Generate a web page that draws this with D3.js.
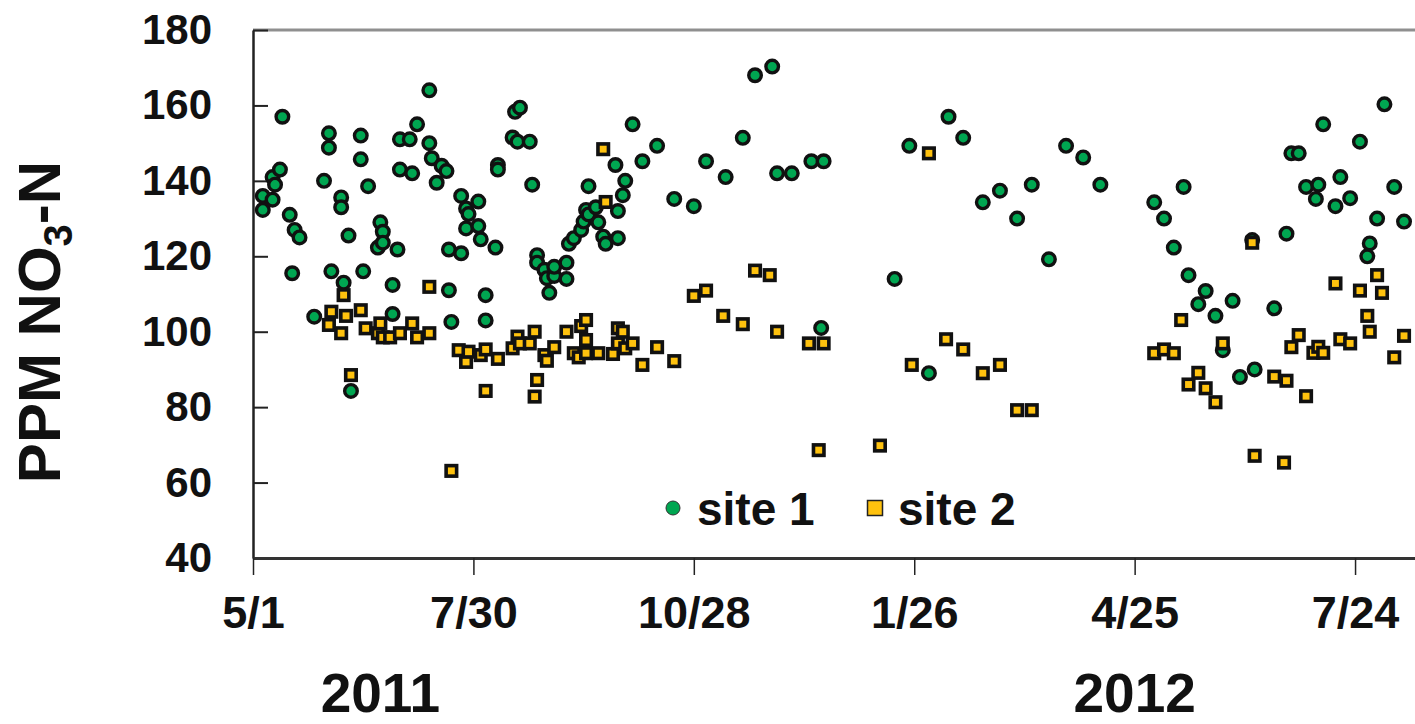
<!DOCTYPE html>
<html>
<head>
<meta charset="utf-8">
<script src="https://cdn.jsdelivr.net/npm/d3@7"></script>
<style>
  html, body { margin: 0; padding: 0; background: #fff; }
  svg { display: block; font-family: "Liberation Sans", Arial, sans-serif; font-weight: bold; }
</style>
</head>
<body>
<svg id="chart" width="1415" height="724"></svg>
<script>
// site 1 (green circles): sample date, ppm NO3-N
const site1Dates = [
  "2011-05-05","2011-05-05","2011-05-09","2011-05-09","2011-05-10","2011-05-12","2011-05-13","2011-05-16","2011-05-17","2011-05-18",
  "2011-05-20","2011-05-26","2011-05-30","2011-06-01","2011-06-01","2011-06-02","2011-06-06","2011-06-06","2011-06-07","2011-06-09",
  "2011-06-10","2011-06-14","2011-06-14","2011-06-15","2011-06-17","2011-06-21","2011-06-22","2011-06-23","2011-06-23","2011-06-27",
  "2011-06-27","2011-06-29","2011-06-30","2011-06-30","2011-07-04","2011-07-05","2011-07-07","2011-07-12","2011-07-12","2011-07-13",
  "2011-07-15","2011-07-17","2011-07-19","2011-07-20","2011-07-20","2011-07-21","2011-07-25","2011-07-25","2011-07-27","2011-07-27",
  "2011-07-28","2011-08-01","2011-08-01","2011-08-02","2011-08-04","2011-08-04","2011-08-08","2011-08-09","2011-08-09","2011-08-15",
  "2011-08-16","2011-08-18","2011-08-17","2011-08-22","2011-08-23","2011-08-25","2011-08-25","2011-08-28","2011-08-29","2011-08-30",
  "2011-09-01","2011-09-01","2011-09-06","2011-09-06","2011-09-07","2011-09-09","2011-09-12","2011-09-13","2011-09-14","2011-09-15",
  "2011-09-15","2011-09-18","2011-09-19","2011-09-21","2011-09-22","2011-09-26","2011-09-27","2011-09-27","2011-09-29","2011-09-30",
  "2011-10-03","2011-10-07","2011-10-13","2011-10-20","2011-10-28","2011-11-02","2011-11-10","2011-11-17","2011-11-22","2011-11-29",
  "2011-12-01","2011-12-07","2011-12-15","2011-12-20","2011-12-19","2012-01-18","2012-01-24","2012-02-01","2012-02-09","2012-02-15",
  "2012-02-23","2012-03-01","2012-03-08","2012-03-14","2012-03-21","2012-03-28","2012-04-04","2012-04-11","2012-05-03","2012-05-07",
  "2012-05-11","2012-05-15","2012-05-17","2012-05-21","2012-05-24","2012-05-28","2012-05-31","2012-06-04","2012-06-07","2012-06-12",
  "2012-06-13","2012-06-21","2012-06-26","2012-06-28","2012-07-01","2012-07-04","2012-07-08","2012-07-09","2012-07-11","2012-07-16",
  "2012-07-18","2012-07-22","2012-07-26","2012-07-29","2012-07-30","2012-08-02","2012-08-05","2012-08-09","2012-08-13"
];
const site1Values = [
  132.3,136,141,135,139,143,157,131,115.5,127,
  125,104,140,152.6,148.8,116,135.6,133,113,125.5,
  84.3,152,145.7,116,138.6,122.3,129,126.5,123.6,104.7,
  112.4,121.8,143,151,151,142,155,164,150,146,
  139.5,144,142.6,111,121.8,102.6,120.8,136,127.4,132.7,
  131.2,134.5,128,124.5,109.7,103,122.3,144.2,143,151.5,
  158.3,159.4,150.4,150.4,139,120.3,118.3,116.4,114.2,110.3,
  114.8,117.2,118.3,114,123.3,124.8,127,129.2,132.3,131.1,
  138.6,133,129,125.2,123.3,144.2,132,124.8,136.2,140,
  155,145.2,149.3,135.2,133.3,145.2,141,151.4,168,170.3,
  142,142,145.2,145.2,101,114,149.3,89,157,151.4,
  134.3,137.4,130,139,119.2,149.3,146.2,139,134.3,130,
  122.3,138.4,115,107.3,110.8,104.2,95.1,108.2,88,124.3,
  90,106.2,126,147.3,147.3,138.4,135.2,139,155,133.3,
  141,135.4,150.4,120,123.4,130,160.3,138.4,129.2
];

// site 2 (yellow squares)
const site2Dates = [
  "2011-06-01","2011-06-02","2011-06-06","2011-06-07","2011-06-08","2011-06-10","2011-06-14","2011-06-16","2011-06-21","2011-06-22",
  "2011-06-23","2011-06-26","2011-06-30","2011-07-05","2011-07-07","2011-07-12","2011-07-12","2011-07-21","2011-07-24","2011-07-27",
  "2011-07-28","2011-08-02","2011-08-04","2011-08-04","2011-08-09","2011-08-15","2011-08-17","2011-08-18","2011-08-22","2011-08-24",
  "2011-08-25","2011-08-24","2011-08-28","2011-08-29","2011-09-01","2011-09-06","2011-09-09","2011-09-11","2011-09-12","2011-09-14",
  "2011-09-14","2011-09-14","2011-09-19","2011-09-21","2011-09-22","2011-09-25","2011-09-27","2011-09-27","2011-09-29","2011-09-30",
  "2011-10-03","2011-10-07","2011-10-13","2011-10-20","2011-10-28","2011-11-02","2011-11-09","2011-11-17","2011-11-22","2011-11-28",
  "2011-12-01","2011-12-14","2011-12-20","2011-12-18","2012-01-12","2012-01-25","2012-02-01","2012-02-08","2012-02-15","2012-02-23",
  "2012-03-01","2012-03-08","2012-03-14","2012-05-03","2012-05-07","2012-05-11","2012-05-14","2012-05-17","2012-05-21","2012-05-24",
  "2012-05-28","2012-05-31","2012-06-12","2012-06-13","2012-06-21","2012-06-25","2012-06-26","2012-06-28","2012-07-01","2012-07-04",
  "2012-07-07","2012-07-09","2012-07-11","2012-07-16","2012-07-18","2012-07-22","2012-07-26","2012-07-29","2012-07-30","2012-08-02",
  "2012-08-04","2012-08-09","2012-08-13"
];
const site2Values = [
  101.8,105.3,99.6,109.7,104.2,88.5,105.7,100.9,99.6,102.2,
  98.5,98.5,99.6,102.2,98.5,111.9,99.6,63.1,95.1,92,
  94.7,93.8,84.3,95.3,92.8,95.6,98.7,96.9,96.9,100,
  87.2,82.8,93.8,92.3,95.9,100,94.3,93.2,101.5,97.8,
  103.1,94.3,94.3,148.4,134.4,94.1,96.9,100.9,100,95.6,
  96.9,91.2,95.9,92.2,109.5,110.9,104.2,102,116.2,115,
  100,96.9,96.9,68.6,69.8,91.2,147.3,98,95.3,89,
  91.2,79.2,79.2,94.3,95.3,94.3,103.1,86,89.1,85,
  81.3,96.9,123.6,67.1,88.1,65.3,87,95.9,99.1,82.9,
  94.4,96,94.4,112.8,98,96.9,110.9,104.2,100,115,
  110.3,93.2,98.9
];

// axis ticks and labels
const xTickDates = ["2011-05-01","2011-07-30","2011-10-28","2012-01-26","2012-04-25","2012-07-24"];
const yTicks = [40, 60, 80, 100, 120, 140, 160, 180];
const yearLabels = [{ text: "2011", date: "2011-06-22" }, { text: "2012", date: "2012-04-25" }];
const seriesNames = ["site 1", "site 2"];

const parse = d3.utcParse("%Y-%m-%d");
const GREEN = "#00a651";
const YELLOW = "#ffc20e";

const svg = d3.select("#chart");
const plotLeft = 253, plotTop = 30, plotBottom = 558;
const pxPerDay = 2.449;

// the axis runs past the right edge of the picture (cropped like the original)
const x = d3.scaleUtc()
  .domain([parse("2011-05-01"), parse("2012-10-22")])
  .range([plotLeft, plotLeft + 540 * pxPerDay]);
const y = d3.scaleLinear().domain([40, 180]).range([plotBottom, plotTop]);

// top frame line (grey)
svg.append("line")
  .attr("x1", plotLeft).attr("x2", x.range()[1])
  .attr("y1", y(180)).attr("y2", y(180))
  .attr("stroke", "#8f8f8f").attr("stroke-width", 3);

// y axis, ticks point inward
const yAxis = svg.append("g")
  .attr("transform", `translate(${plotLeft},0)`)
  .call(d3.axisLeft(y).tickValues(yTicks).tickSize(-15).tickSizeOuter(0).tickPadding(41));
yAxis.select(".domain").attr("stroke", "#222").attr("stroke-width", 2.5);
yAxis.selectAll(".tick line").attr("stroke", "#222").attr("stroke-width", 2);
yAxis.selectAll(".tick text")
  .attr("font-size", 42).attr("font-weight", "bold").attr("fill", "#111")
  .attr("font-family", "'Liberation Sans', Arial, sans-serif");

// x axis
const xAxis = svg.append("g")
  .attr("transform", `translate(0,${plotBottom})`)
  .call(d3.axisBottom(x).tickValues(xTickDates.map(parse)).tickFormat(d3.utcFormat("%-m/%-d"))
    .tickSize(17).tickSizeOuter(0).tickPadding(21));
xAxis.select(".domain").attr("stroke", "#333").attr("stroke-width", 3);
xAxis.selectAll(".tick line").attr("stroke", "#222").attr("stroke-width", 1.5);
xAxis.selectAll(".tick text")
  .attr("font-size", 45).attr("font-weight", "bold").attr("fill", "#111")
  .attr("font-family", "'Liberation Sans', Arial, sans-serif");

// year labels
svg.selectAll("text.year")
  .data(yearLabels)
  .join("text")
  .attr("class", "year")
  .attr("x", d => x(parse(d.date)))
  .attr("y", 712)
  .attr("text-anchor", "middle")
  .attr("font-size", 55)
  .attr("fill", "#111")
  .text(d => d.text);

// y title with subscript
const title = svg.append("text")
  .attr("transform", "translate(60,322) rotate(-90)")
  .attr("text-anchor", "middle")
  .attr("font-size", 60)
  .attr("fill", "#111");
title.append("tspan").text("PPM NO");
title.append("tspan").attr("font-size", 40).attr("dy", 12).text("3");
title.append("tspan").attr("dy", -12).text("-N");

// points
const site1 = site1Dates.map((d, i) => ({ date: parse(d), value: site1Values[i] }));
const site2 = site2Dates.map((d, i) => ({ date: parse(d), value: site2Values[i] }));

svg.append("g")
  .selectAll("circle")
  .data(site1)
  .join("circle")
  .attr("cx", d => x(d.date))
  .attr("cy", d => y(d.value))
  .attr("r", 6.3)
  .attr("fill", GREEN)
  .attr("stroke", "#111")
  .attr("stroke-width", 3.4);

const sq = 10.5;
svg.append("g")
  .selectAll("rect")
  .data(site2)
  .join("rect")
  .attr("x", d => x(d.date) - sq / 2)
  .attr("y", d => y(d.value) - sq / 2)
  .attr("width", sq)
  .attr("height", sq)
  .attr("fill", YELLOW)
  .attr("stroke", "#111")
  .attr("stroke-width", 3.6);

// legend
const legend = svg.append("g");
legend.append("circle")
  .attr("cx", 673).attr("cy", 508).attr("r", 7)
  .attr("fill", GREEN).attr("stroke", "#333").attr("stroke-width", 1);
legend.append("text")
  .attr("x", 697).attr("y", 525).attr("font-size", 46).attr("fill", "#111")
  .text(seriesNames[0]);
legend.append("rect")
  .attr("x", 875 - 7.5).attr("y", 508 - 7.5).attr("width", 15).attr("height", 15)
  .attr("fill", YELLOW).attr("stroke", "#222").attr("stroke-width", 1.5);
legend.append("text")
  .attr("x", 898).attr("y", 525).attr("font-size", 46).attr("fill", "#111")
  .text(seriesNames[1]);
</script>
</body>
</html>
